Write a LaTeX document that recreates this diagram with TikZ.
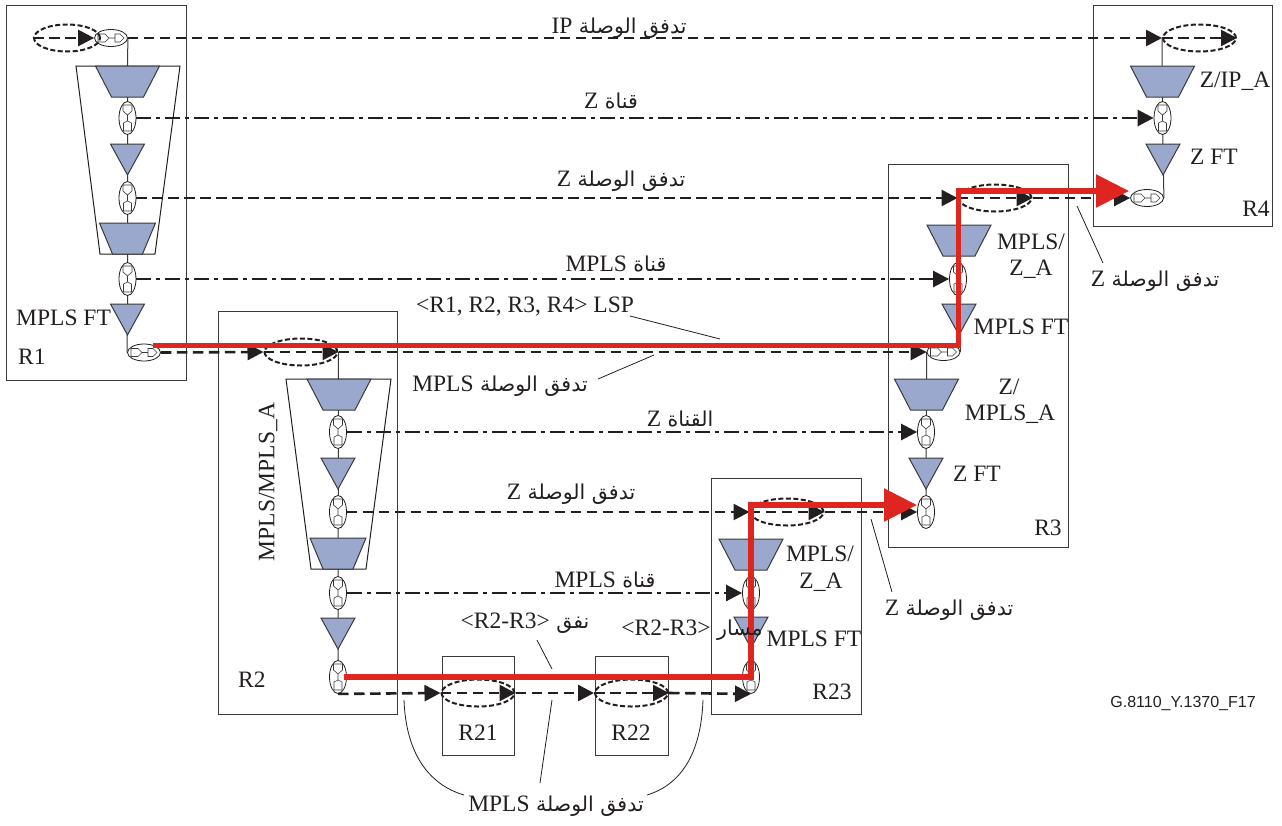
\documentclass[tikz,border=0pt]{standalone}
\usepackage{fontspec}
\setmainfont{Liberation Serif}
\setsansfont{Liberation Sans}
\newfontfamily\arfont[Script=Arabic]{DejaVu Sans}
\TeXXeTstate=1
\usetikzlibrary{arrows.meta,shapes.geometric,backgrounds}
\definecolor{ink}{HTML}{231F20}
\definecolor{edgec}{HTML}{3A3A3A}
\definecolor{bluef}{HTML}{9BA8CE}
\definecolor{redc}{HTML}{DF2520}
\newcommand{\ARt}[2]{{\fontsize{20.5}{24}\arfont\beginR #1\ \beginL{\fontsize{23.5}{26}\rmfamily #2}\endL\endR}}
\newcommand{\VP}[3]{\node[vport] (#1) at (#2,#3) {};
 \begin{scope}[shift={(#2,#3)}]\draw[glyph] (-4.5,-13)--(4.5,-13)--(4.5,-7)--(0,-3)--(-4.5,-7)--cycle (-4,13)--(4,13)--(4,5)--(0,3)--(-4,5)--cycle (0,-3)--(0,3);\end{scope}}
\newcommand{\HP}[3]{\node[hport] (#1) at (#2,#3) {};
 \begin{scope}[shift={(#2,#3)}]\draw[glyph] (-13,-4)--(-6,-4)--(-2,0)--(-6,4)--(-13,4)--cycle (-2,0)--(4,0) (4,-4)--(9,-4)--(13,0)--(9,4)--(4,4)--cycle;\end{scope}}
\newcommand{\TRAP}[3]{\draw[shapeb] (#2-32,#3)--(#2+32,#3)--(#2+16,#3+31)--(#2-16,#3+31)--cycle;\coordinate (#1) at (#2,#3);}
\newcommand{\TRAPN}[3]{\draw[shapeb] (#2-28,#3)--(#2+28,#3)--(#2+15,#3+31)--(#2-15,#3+31)--cycle;\coordinate (#1) at (#2,#3);}
\newcommand{\TRI}[3]{\draw[shapeb] (#2-17,#3)--(#2+17,#3)--(#2,#3+31)--cycle;\coordinate (#1) at (#2,#3);}
\tikzset{
 x=1pt,y=-1pt,
 box/.style={draw=edgec,line width=1},
 glyph/.style={draw=edgec,line width=.6,fill=white},
 shapeb/.style={draw=edgec,line width=1,fill=bluef,line join=miter},
 vport/.style={ellipse,draw=ink,line width=.8,fill=white,minimum width=17,minimum height=33,inner sep=0},
 hport/.style={ellipse,draw=ink,line width=.8,fill=white,minimum width=33,minimum height=17,inner sep=0},
 hoop/.style={ellipse,draw=ink,line width=2,dash pattern=on 5 off 2.5,minimum width=73,minimum height=27,inner sep=0},
 stem/.style={draw=edgec,line width=1},
 thinl/.style={draw=ink,line width=.8},
 tip/.style={-{Triangle[length=16,width=16,fill=ink]}},
 linkl/.style={draw=ink,line width=2.6,dash pattern=on 10.5 off 5.5,tip},
 chanl/.style={draw=ink,line width=2.6,dash pattern=on 15 off 5 on 4 off 5,tip},
 redl/.style={draw=redc,line width=5.5,line join=miter,-{Triangle[length=33,width=32,fill=redc]}},
 lab/.style={font=\fontsize{23.5}{26}\selectfont,inner sep=0,text=ink,yshift=-1pt},
 alab/.style={inner sep=0,text=ink,yshift=-1.5pt},
}
\begin{document}
\begin{tikzpicture}
\useasboundingbox (0,0) rectangle (1282,825);
\begin{scope}[on background layer]
\fill[white] (0,0) rectangle (1282,825);
\end{scope}
% router boxes
\node[box,minimum width=180,minimum height=375,inner sep=0] (R1) at (96,192.5) {};
\node[box,minimum width=179,minimum height=403,inner sep=0] (R2) at (307.5,512.5) {};
\node[box,minimum width=180,minimum height=383,inner sep=0] (R3) at (978,355.5) {};
\node[box,minimum width=179,minimum height=221,inner sep=0] (R4) at (1182.5,115.5) {};
\node[box,minimum width=150,minimum height=236,inner sep=0] (R23) at (786,596) {};
\node[box,minimum width=72,minimum height=99,inner sep=0] (R21) at (478,705.5) {};
\node[box,minimum width=73,minimum height=99,inner sep=0] (R22) at (631.5,705.5) {};
% adaptation envelopes
\draw[thinl,line width=1] (76,66)--(180,66)--(155,254)--(100,254)--cycle;
\draw[thinl,line width=1] (286,379)--(391,379)--(366,569)--(311,569)--cycle;
% R1
\HP{r1t}{111}{38}
\VP{r1a}{127.5}{118}
\VP{r1b}{127.5}{198}
\VP{r1c}{127.5}{279}
\HP{r1h}{144}{352.5}
\node[hoop,minimum width=66] (r1d) at (67,38) {};
\TRAP{r1s1}{127.5}{66}
\TRI{r1s2}{127.5}{144}
\TRAPN{r1s3}{127.5}{223}
\TRI{r1s4}{127.5}{304}
% R2
\node[hoop] (r2d) at (301,352) {};
\VP{r2a}{338}{432}
\VP{r2b}{338}{512}
\VP{r2c}{338}{593}
\VP{r2e}{338}{677}
\TRAP{r2s1}{339}{379}
\TRI{r2s2}{338}{458}
\TRAPN{r2s3}{338}{538}
\TRI{r2s4}{338}{618}
% R21, R22
\node[hoop] (r21d) at (478,693) {};
\node[hoop] (r22d) at (631.5,693) {};
% R23
\node[hoop] (r23d) at (787,512) {};
\VP{r23a}{751}{593}
\VP{r23b}{751}{677}
\TRAP{r23s1}{751}{539}
\TRI{r23s2}{751}{617}
% R3
\node[hoop] (r3d) at (995,198) {};
\VP{r3a}{958}{279}
\HP{r3h}{943.5}{352}
\VP{r3b}{926}{432}
\VP{r3c}{926}{512}
\TRAP{r3s1}{959}{225}
\TRI{r3s2}{959}{304}
\TRAP{r3s3}{926.5}{379}
\TRI{r3s4}{926}{458}
% R4
\node[hoop] (r4d) at (1199.5,38) {};
\VP{r4a}{1162.5}{118}
\HP{r4h}{1147}{198}
\TRAP{r4s1}{1162.5}{66}
\TRI{r4s2}{1163}{144}
% stems
\begin{scope}[on background layer]
\draw[stem] (r1t.east)--(r1s1);
\draw[stem] (r1s1)--(r1c.center)--(r1s4)--(r1h.west);
\draw[stem] (r2d.east)--(r2e.center);
\draw[stem] (r3h.west)--(r3c.center);
\draw[stem] (r3a.center)--(r3h.east);
\draw[stem] (r23s1)--(r23b.center);
\draw[stem] (r4d.west)--(r4a.center)--(r4h.east);
\end{scope}
% link flows and channels
\draw[linkl] (r1d.west)--(r1t.west);
\draw[linkl] (r1t.east)--(r4d.west);
\draw[linkl] (r4d.west)--(r4d.east);
\draw[chanl] (r1a.east)--(r4a.west);
\draw[linkl] (r1b.east)--(r3d.west);
\draw[linkl] (r3d.west)--(r3d.east);
\draw[linkl] (r3d.east)--(r4h.west);
\draw[chanl] (r1c.east)--(r3a.west);
\draw[linkl] (r1h.east)--(r2d.west);
\draw[linkl] (r2d.west)--(r2d.east);
\draw[linkl] (r2d.east)--(r3h.west);
\draw[chanl] (r2a.east)--(r3b.west);
\draw[linkl] (r2b.east)--(r23d.west);
\draw[linkl] (r23d.west)--(r23d.east);
\draw[linkl] (r23d.east)--(r3c.west);
\draw[chanl] (r2c.east)--(r23a.west);
\draw[linkl] (r2e.south)--(r21d.west);
\draw[linkl] (r21d.west)--(r21d.east);
\draw[linkl] (r21d.east)--(r22d.west);
\draw[linkl] (r22d.west)--(r22d.east);
\draw[linkl] (r22d.east)--(r23b.south);
% leaders
\coordinate (lspA) at (630,316); \coordinate (lspB) at (720,339);
\coordinate (mfA) at (598,379); \coordinate (mfB) at (654,355);
\coordinate (tuA) at (537,640); \coordinate (tuB) at (552,669);
\coordinate (zA) at (1077,206); \coordinate (zB) at (1103,263);
\coordinate (zC) at (871,519); \coordinate (zD) at (892,592);
\coordinate (mA) at (552,700); \coordinate (mB) at (540,783);
\coordinate (cA) at (404,700); \coordinate (cB) at (464,795);
\coordinate (cC) at (703,700); \coordinate (cD) at (647,795);
\draw[thinl] (lspA)--(lspB);
\draw[thinl] (mfA)--(mfB);
\draw[thinl] (tuA)--(tuB);
\draw[thinl] (zA)--(zB);
\draw[thinl] (zC)--(zD);
\draw[thinl] (mA)--(mB);
\draw[thinl] (cA) .. controls (406,755) and (430,785) .. (cB);
\draw[thinl] (cC) .. controls (701,755) and (680,785) .. (cD);
% red LSP paths
\coordinate (ra) at (153,345.5); \coordinate (rb) at (958.5,345.5); \coordinate (rc) at (958.5,191); \coordinate (rd) at (1129,191);
\coordinate (re) at (344,677); \coordinate (rf) at (751,677); \coordinate (rg) at (751,505); \coordinate (rh) at (917,505);
\draw[redl] (ra)--(rb)--(rc)--(rd);
\draw[redl] (re)--(rf)--(rg)--(rh);
% labels
\node[lab,anchor=west] (t1) at (16,317) {MPLS FT};
\node[lab,anchor=west] (t2) at (18,356) {R1};
\node[lab,anchor=west] (t3) at (238,679) {R2};
\node[lab,rotate=90] (t4) at (268,481) {MPLS/MPLS\_A};
\node[lab] (t5) at (478,732) {R21};
\node[lab] (t6) at (631,732) {R22};
\node[lab] (t7) at (832,691) {R23};
\node[lab] (t8) at (1048,527) {R3};
\node[lab] (t9) at (1256,208) {R4};
\node[lab] (t10) at (1235,80) {Z/IP\_A};
\node[lab] (t11) at (1214,156) {Z FT};
\node[lab] (t12) at (1031,241) {MPLS/};
\node[lab] (t13) at (1031,268) {Z\_A};
\node[lab] (t14) at (1021,326) {MPLS FT};
\node[lab] (t15) at (1009,386) {Z/};
\node[lab] (t16) at (1010,413) {MPLS\_A};
\node[lab] (t17) at (977,473) {Z FT};
\node[lab] (t18) at (820,553) {MPLS/};
\node[lab] (t19) at (821,581) {Z\_A};
\node[lab] (t20) at (814,638) {MPLS FT};
\node[lab] (t21) at (525,306) {<R1, R2, R3, R4> LSP};
\node[alab] (a1) at (619,27) {\ARt{تدفق الوصلة}{IP}};
\node[alab] (a2) at (611,99) {\ARt{قناة}{Z}};
\node[alab] (a3) at (621,180) {\ARt{تدفق الوصلة}{Z}};
\node[alab] (a4) at (616,262) {\ARt{قناة}{MPLS}};
\node[alab] (a5) at (500,385) {\ARt{تدفق الوصلة}{MPLS}};
\node[alab] (a6) at (680,417) {\ARt{القناة}{Z}};
\node[alab] (a7) at (571,493) {\ARt{تدفق الوصلة}{Z}};
\node[alab] (a8) at (605,578) {\ARt{قناة}{MPLS}};
\node[alab] (a9) at (525,622) {\ARt{نفق}{<R2-R3>}};
\node[alab] (a10) at (692,629) {\ARt{مسار}{<R2-R3>}};
\node[alab] (a11) at (556,805) {\ARt{تدفق الوصلة}{MPLS}};
\node[alab] (a12) at (949,609) {\ARt{تدفق الوصلة}{Z}};
\node[alab] (a13) at (1155,280) {\ARt{تدفق الوصلة}{Z}};
\node[inner sep=0,text=ink,font=\sffamily\fontsize{16}{18}\selectfont] (fig) at (1183,703) {G.8110\_Y.1370\_F17};
\end{tikzpicture}
\end{document}
